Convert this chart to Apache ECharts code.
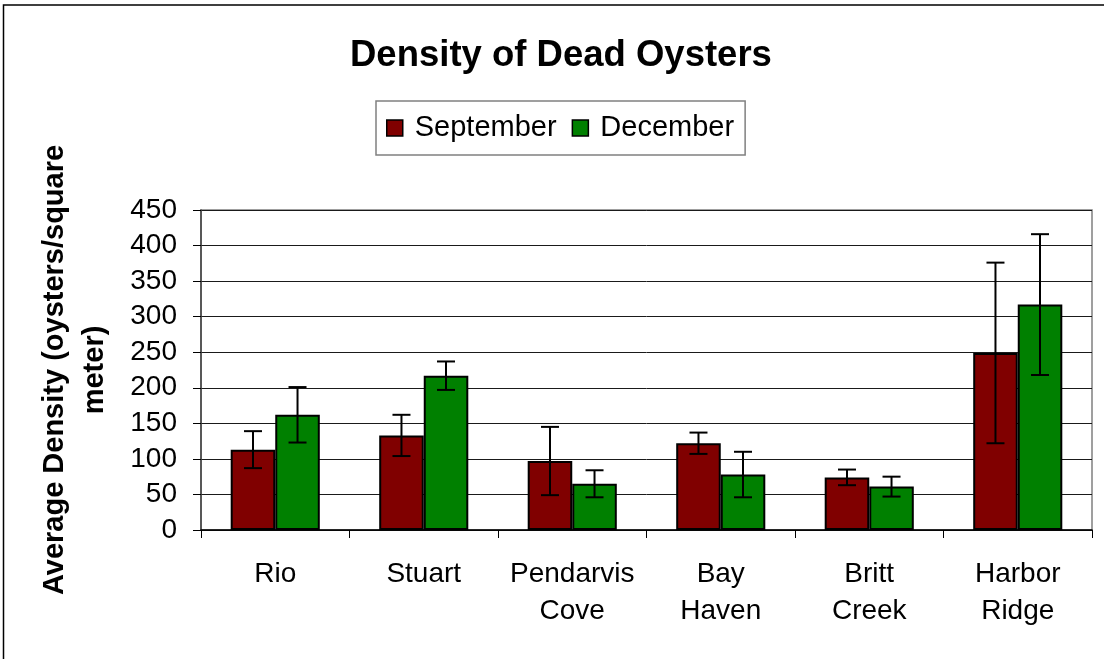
<!DOCTYPE html>
<html>
<head>
<meta charset="utf-8">
<script src="https://cdn.jsdelivr.net/npm/echarts@6/dist/echarts.min.js"></script>
<style>
html,body{margin:0;padding:0;background:#fff;}
#chart{width:1104px;height:659px;}
</style>
</head>
<body>
<div id="chart"></div>
<script>
const categories = ['Rio', 'Stuart', 'Pendarvis\nCove', 'Bay\nHaven', 'Britt\nCreek', 'Harbor\nRidge'];
const seriesNames = ['September', 'December'];
const september = [113, 133, 97, 122, 74, 249];
const december = [162, 217, 65, 78, 61, 317];
const septemberErr = [26, 29, 48, 15, 11, 127];
const decemberErr = [39, 20, 19, 32, 14, 99];
const yTicks = {min: 0, max: 450, interval: 50};

const FONT = "'Liberation Sans', Arial, sans-serif";
const chart = echarts.init(document.getElementById('chart'), null, {renderer: 'canvas'});

function errData(vals, errs) {
  return vals.map((v, i) => [i, v, errs[i]]);
}
function errRenderer(sign) {
  return function (params, api) {
    const band = api.size([1, 0])[0];
    const off = sign * band * 0.15;
    const i = api.value(0), v = api.value(1), e = api.value(2);
    const top = api.coord([i, v + e]);
    const bot = api.coord([i, v - e]);
    const x = top[0] + off;
    const cap = 9;
    const st = {stroke: '#000', lineWidth: 2};
    return {
      type: 'group',
      children: [
        {type: 'line', shape: {x1: x, y1: top[1], x2: x, y2: bot[1]}, style: st},
        {type: 'line', shape: {x1: x - cap, y1: top[1], x2: x + cap, y2: top[1]}, style: st},
        {type: 'line', shape: {x1: x - cap, y1: bot[1], x2: x + cap, y2: bot[1]}, style: st}
      ]
    };
  };
}

chart.setOption({
  animation: false,
  backgroundColor: '#fff',
  textStyle: {fontFamily: FONT},
  graphic: [{
    type: 'rect', z: 100,
    shape: {x: 3.5, y: 5, width: 1300, height: 900},
    style: {fill: 'none', stroke: '#000', lineWidth: 1.5}
  }],
  title: {
    text: 'Density of Dead Oysters',
    left: 345, top: 32,
    textStyle: {fontFamily: FONT, fontWeight: 'bold', fontSize: 36.5, color: '#000'}
  },
  legend: {
    data: seriesNames,
    left: 376, top: 101,
    selectedMode: false,
    backgroundColor: '#fff',
    borderColor: '#808080', borderWidth: 1.5,
    padding: [10, 11, 10, 10],
    itemGap: 15,
    itemWidth: 16, itemHeight: 16,
    icon: 'rect',
    itemStyle: {borderColor: '#000', borderWidth: 1.5},
    textStyle: {fontFamily: FONT, fontSize: 29, color: '#000', lineHeight: 34, padding: [0, 0, 0, 7]}
  },
  grid: {
    left: 201, right: 12, top: 210, bottom: 129,
    show: true, borderColor: '#808080', borderWidth: 1.5, backgroundColor: '#fff'
  },
  xAxis: {
    type: 'category',
    data: categories,
    axisLine: {lineStyle: {color: '#000', width: 1.5}},
    axisTick: {show: true, length: 8, lineStyle: {color: '#000', width: 1}},
    axisLabel: {fontFamily: FONT, fontSize: 28, color: '#000', lineHeight: 37, margin: 26, interval: 0}
  },
  yAxis: {
    type: 'value',
    min: yTicks.min, max: yTicks.max, interval: yTicks.interval,
    name: 'Average Density (oysters/square\nmeter)',
    nameLocation: 'middle', nameRotate: 90, nameGap: 86,
    nameTextStyle: {fontFamily: FONT, fontWeight: 'bold', fontSize: 29, color: '#000', lineHeight: 40, align: 'center'},
    axisLine: {show: true, lineStyle: {color: '#404040', width: 1.5}},
    axisTick: {show: true, length: 8, lineStyle: {color: '#000', width: 1}},
    axisLabel: {fontFamily: FONT, fontSize: 28, color: '#000', margin: 24},
    splitLine: {show: true, lineStyle: {color: '#1a1a1a', width: 1}}
  },
  series: [
    {
      name: seriesNames[0], type: 'bar', data: september,
      barGap: '0%', barCategoryGap: '40%',
      itemStyle: {color: '#800000', borderColor: '#000', borderWidth: 2}
    },
    {
      name: seriesNames[1], type: 'bar', data: december,
      barGap: '0%', barCategoryGap: '40%',
      itemStyle: {color: '#008000', borderColor: '#000', borderWidth: 2}
    },
    {
      type: 'custom', name: 'errS', data: errData(september, septemberErr),
      renderItem: errRenderer(-1), z: 10, silent: true
    },
    {
      type: 'custom', name: 'errD', data: errData(december, decemberErr),
      renderItem: errRenderer(1), z: 10, silent: true
    }
  ]
});
</script>
</body>
</html>
